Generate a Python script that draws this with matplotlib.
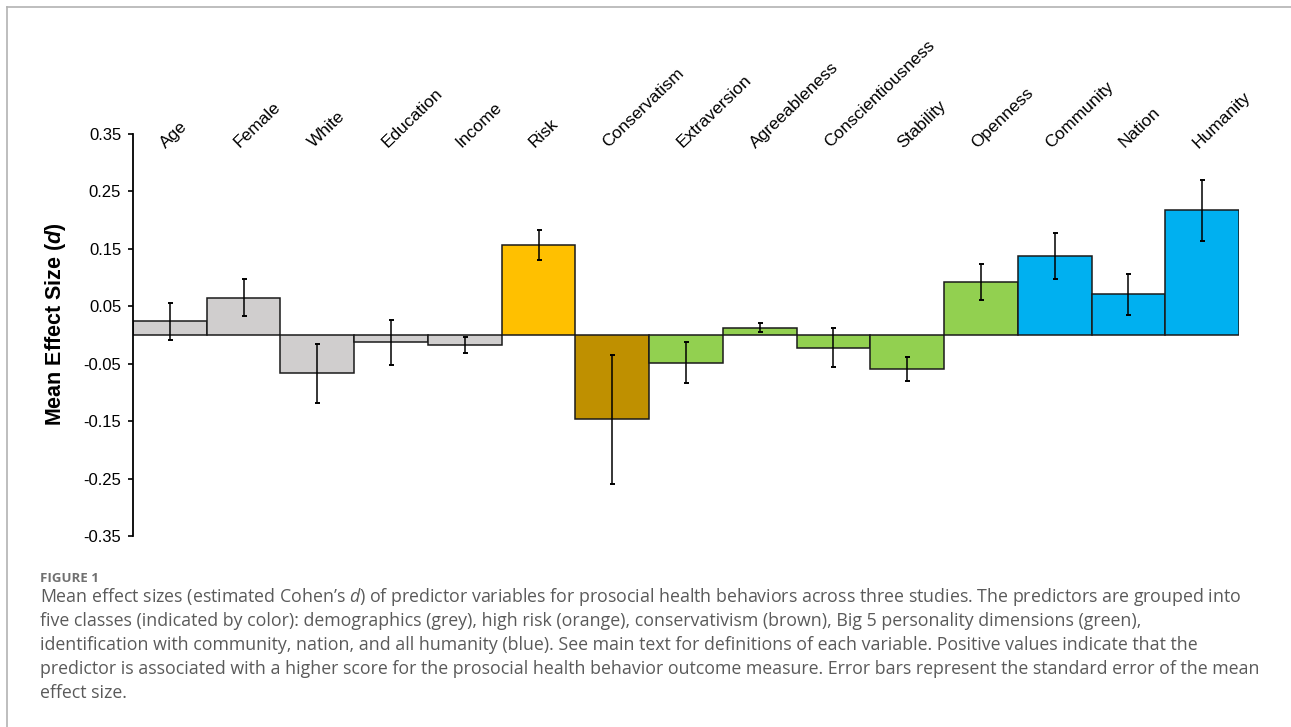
import numpy as np
import matplotlib
matplotlib.use("Agg")
import matplotlib.pyplot as plt
from matplotlib.lines import Line2D

plt.rcParams['font.family'] = ['Liberation Sans', 'DejaVu Sans']
plt.rcParams['mathtext.fontset'] = 'custom'
plt.rcParams['mathtext.it'] = 'Open Sans:italic'
plt.rcParams['mathtext.rm'] = 'Open Sans'
plt.rcParams['mathtext.bfit'] = 'Liberation Sans:italic:bold'

# predictors and their mean effect sizes (Cohen's d) with standard errors
predictors = ['Age', 'Female', 'White', 'Education', 'Income', 'Risk',
              'Conservatism', 'Extraversion', 'Agreeableness', 'Conscientiousness',
              'Stability', 'Openness', 'Community', 'Nation', 'Humanity']
mean_d = [0.024, 0.065, -0.067, -0.013, -0.018, 0.156,
          -0.147, -0.048, 0.013, -0.022,
          -0.059, 0.092, 0.138, 0.071, 0.217]
se_d = [0.032, 0.032, 0.051, 0.039, 0.014, 0.026,
        0.112, 0.035, 0.008, 0.034,
        0.021, 0.031, 0.040, 0.036, 0.053]
group = ['demo'] * 5 + ['risk', 'cons'] + ['big5'] * 5 + ['ident'] * 3
group_colors = {'demo': '#D0CECE', 'risk': '#FFC000', 'cons': '#BF9000',
                'big5': '#92D050', 'ident': '#00B0F0'}

yticks = [-0.35, -0.25, -0.15, -0.05, 0.05, 0.15, 0.25, 0.35]
ytick_labels = ['-0.35', '-0.25', '-0.15', '-0.05', '0.05', '0.15', '0.25', '0.35']

caption_lines = [
    "Mean effect sizes (estimated Cohen’s $d$) of predictor variables for prosocial health behaviors across three studies. The predictors are grouped into",
    "five classes (indicated by color): demographics (grey), high risk (orange), conservativism (brown), Big 5 personality dimensions (green),",
    "identification with community, nation, and all humanity (blue). See main text for definitions of each variable. Positive values indicate that the",
    "predictor is associated with a higher score for the prosocial health behavior outcome measure. Error bars represent the standard error of the mean",
    "effect size.",
]

W, H = 1291, 727
fig = plt.figure(figsize=(W / 100, H / 100), dpi=100)
ax = fig.add_axes([133 / W, 1 - 536 / H, (1239 - 133) / W, (536 - 134) / H])

x = np.arange(len(predictors))
colors = [group_colors[g] for g in group]
ax.bar(x, mean_d, width=1.0, color=colors, edgecolor='#1a1a1a', linewidth=1.1, zorder=2)
ax.errorbar(x, mean_d, yerr=se_d, fmt='none', ecolor='black', elinewidth=1.1,
            capsize=1.8, capthick=1.4, zorder=3)

ax.set_xlim(-0.5, len(predictors) - 0.5)
ax.set_ylim(-0.35, 0.35)
for s in ['top', 'right', 'bottom']:
    ax.spines[s].set_visible(False)
ax.spines['left'].set_linewidth(1.3)
ax.set_xticks([])
ax.set_yticks(yticks)
ax.set_yticklabels(ytick_labels, fontsize=12)
ax.tick_params(axis='y', length=3.5, width=1.2, pad=5)
ax.set_ylabel(r'Mean Effect Size ($\mathbfit{d}$)', fontsize=15.5, fontweight='bold')
ax.yaxis.set_label_coords(-0.059, 0.527)

# category names written diagonally above the plot
for i, name in enumerate(predictors):
    ax.text(i - 0.05, 0.325, name, rotation=44, rotation_mode='anchor',
            ha='left', va='baseline', fontsize=12.5, clip_on=False)

# card border
fig.add_artist(Line2D([7 / W, 1], [1 - 7 / H, 1 - 7 / H], transform=fig.transFigure,
                      color='#b3b3b3', linewidth=1.2))
fig.add_artist(Line2D([7 / W, 7 / W], [0, 1 - 7 / H], transform=fig.transFigure,
                      color='#b3b3b3', linewidth=1.2))

fig.text(40 / W, 1 - 578 / H, 'FIGURE 1', fontsize=9.5, fontweight='bold',
         color='#707070', family='Open Sans', va='center', ha='left')
for k, line in enumerate(caption_lines):
    fig.text(40 / W, 1 - (597 + 24 * k) / H, line, fontsize=12.8, color='#5a5a5a',
             family='Open Sans', va='center', ha='left')

fig.savefig('out.png', dpi=100)
